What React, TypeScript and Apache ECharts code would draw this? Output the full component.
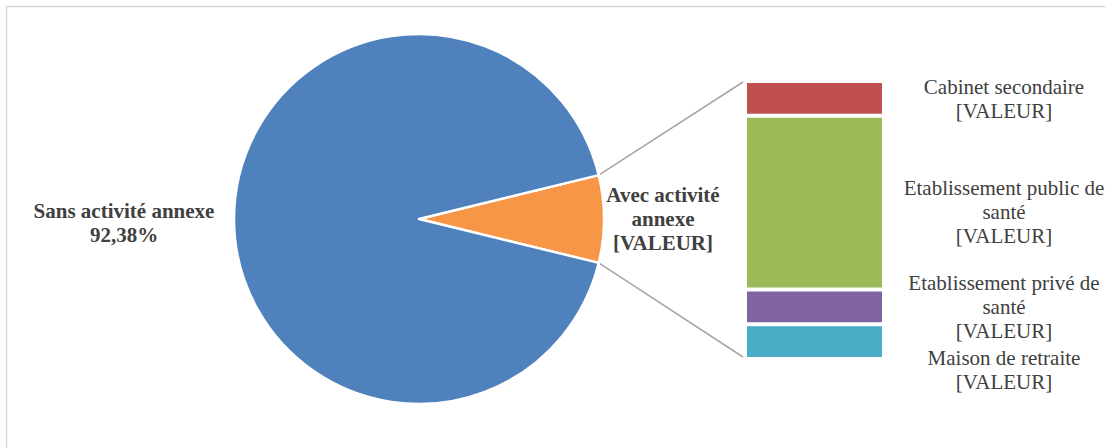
import { useEffect, useRef } from 'react';
import * as echarts from 'echarts';

// Répartition : activité annexe (effectifs)
const pieNames = ['Avec activité annexe', 'Sans activité annexe'];
const pieValues = [8, 97];
const pieColors = ['#F79646', '#4F81BD'];

// Détail de l'activité annexe (de bas en haut dans la barre)
const barNames = [
  'Maison de retraite',
  'Etablissement privé de santé',
  'Etablissement public de santé',
  'Cabinet secondaire',
];
const barValues = [1, 1, 5, 1];
const barColors = ['#4BACC6', '#8064A2', '#9BBB59', '#C0504D'];
const barLabelTexts = [
  'Maison de retraite\n[VALEUR]',
  'Etablissement privé de\nsanté\n[VALEUR]',
  'Etablissement public de\nsanté\n[VALEUR]',
  'Cabinet secondaire\n[VALEUR]',
];

// Layout
const CX = 419;
const CY = 219;
const R = 185;
const GRID_LEFT = 745;
const GRID_TOP = 81;
const GRID_W = 139;
const GRID_H = 278;
const BAR_LABEL_DX = 189.5;
const BAR_LABEL_DY = [28, 0, 9, 1];
const TEXT_COLOR = '#404040';
const FONT = 'Liberation Serif, Times New Roman, serif';

export default function App() {
  const ref = useRef<HTMLDivElement>(null);

  useEffect(() => {
    if (!ref.current) return;
    const chart = echarts.init(ref.current, undefined, { renderer: 'svg' });

    const total = pieValues.reduce((a, b) => a + b, 0);
    const barTotal = barValues.reduce((a, b) => a + b, 0);
    const half = (pieValues[0] / total) * Math.PI; // half angle of the small slice
    const startDeg = (half * 180) / Math.PI;
    const px = CX + R * Math.cos(half);
    const pyTop = CY - R * Math.sin(half);
    const pyBot = CY + R * Math.sin(half);

    const barSeries = barNames.map((name, i) => ({
      type: 'bar',
      name,
      stack: 'detail',
      barWidth: '100%',
      silent: true,
      data: [barValues[i]],
      itemStyle: { color: barColors[i], borderColor: '#ffffff', borderWidth: 2 },
      label: {
        show: true,
        position: 'inside',
        offset: [BAR_LABEL_DX, BAR_LABEL_DY[i]],
        formatter: () => barLabelTexts[i],
        align: 'center',
        verticalAlign: 'middle',
        color: TEXT_COLOR,
        fontFamily: FONT,
        fontSize: 21,
        lineHeight: 24,
      },
      emphasis: { disabled: true },
    }));

    chart.setOption({
      animation: false,
      backgroundColor: '#ffffff',
      grid: { left: GRID_LEFT, top: GRID_TOP, width: GRID_W, height: GRID_H },
      xAxis: { type: 'category', data: ['Avec activité annexe'], show: false },
      yAxis: { type: 'value', min: 0, max: barTotal, show: false },
      graphic: [
        {
          type: 'rect',
          shape: { x: 6.5, y: 6.5, width: 1200, height: 600 },
          style: { fill: 'none', stroke: '#D9D9D9', lineWidth: 1.5 },
          silent: true,
        },
        {
          type: 'line',
          shape: { x1: px, y1: pyTop, x2: GRID_LEFT - 2, y2: GRID_TOP + 1 },
          style: { stroke: '#A6A6A6', lineWidth: 1.5 },
          silent: true,
        },
        {
          type: 'line',
          shape: { x1: px, y1: pyBot, x2: GRID_LEFT - 2, y2: GRID_TOP + GRID_H - 2 },
          style: { stroke: '#A6A6A6', lineWidth: 1.5 },
          silent: true,
        },
      ],
      series: [
        {
          type: 'pie',
          center: [CX, CY],
          radius: R,
          startAngle: startDeg,
          clockwise: true,
          avoidLabelOverlap: false,
          silent: true,
          data: pieNames.map((name, i) => ({
            name,
            value: pieValues[i],
            itemStyle: { color: pieColors[i] },
          })),
          itemStyle: { borderColor: '#ffffff', borderWidth: 2.5 },
          label: {
            show: true,
            position: 'outside',
            color: TEXT_COLOR,
            fontFamily: FONT,
            fontSize: 21,
            fontWeight: 'bold',
            lineHeight: 24,
            formatter: (p: any) =>
              p.dataIndex === 0
                ? 'Avec activité\nannexe\n[VALEUR]'
                : `${p.name}\n${p.percent.toFixed(2).replace('.', ',')}%`,
          },
          labelLine: { show: false },
          labelLayout: (p: any) =>
            p.dataIndex === 0
              ? { x: CX + 244, y: CY, align: 'center', verticalAlign: 'middle' }
              : { x: CX - 295, y: CY + 3.5, align: 'center', verticalAlign: 'middle' },
          emphasis: { disabled: true },
        },
        ...barSeries,
      ],
    });

    return () => chart.dispose();
  }, []);

  return (
    <div
      ref={ref}
      style={{ position: 'fixed', left: 0, top: 0, width: 1106, height: 448, background: '#ffffff' }}
    />
  );
}
